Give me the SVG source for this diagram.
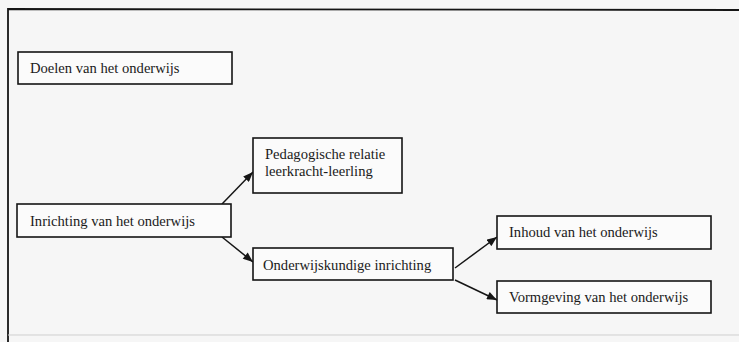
<svg xmlns="http://www.w3.org/2000/svg" width="739" height="342" viewBox="0 0 739 342">
<defs>
<style>
.box{fill:#fbfbfb;stroke:#151515;stroke-width:1.6}
.lbl{font-family:"Liberation Serif","Times New Roman",serif;font-size:14.6px;fill:#1a1a1a}
.conn{stroke:#151515;stroke-width:1.5;fill:none;marker-end:url(#ah)}
</style>
<marker id="ah" viewBox="0 0 10 8" refX="10" refY="4" markerWidth="11" markerHeight="8" markerUnits="userSpaceOnUse" orient="auto">
<path d="M0,0 L10,4 L0,8 Z" fill="#151515"/>
</marker>
</defs>
<rect x="0" y="0" width="739" height="342" fill="#f6f6f6"/>
<path d="M750,10 L8,9 L8,342" fill="none" stroke="#151515" stroke-width="1.8"/>
<path d="M8,335 L739,335" fill="none" stroke="#cfcfcf" stroke-width="1"/>
<g id="connectors">
<line class="conn" x1="222" y1="204" x2="253" y2="172"/>
<line class="conn" x1="222" y1="237" x2="253" y2="262"/>
<line class="conn" x1="455" y1="268" x2="497" y2="237"/>
<line class="conn" x1="455" y1="280" x2="497" y2="300"/>
</g>
<g id="doelen">
<rect class="box" x="18" y="52" width="214" height="32"/>
<text class="lbl" x="30" y="73">Doelen van het onderwijs</text>
</g>
<g id="inrichting">
<rect class="box" x="17" y="204" width="214" height="33"/>
<text class="lbl" x="30" y="226">Inrichting van het onderwijs</text>
</g>
<g id="pedagogische">
<rect class="box" x="253" y="138" width="149" height="55"/>
<text class="lbl" x="265" y="159">Pedagogische relatie</text>
<text class="lbl" x="265" y="176">leerkracht-leerling</text>
</g>
<g id="onderwijskundige">
<rect class="box" x="253" y="248" width="200" height="32"/>
<text class="lbl" x="263" y="270">Onderwijskundige inrichting</text>
</g>
<g id="inhoud">
<rect class="box" x="497" y="216" width="214" height="33"/>
<text class="lbl" x="509" y="237">Inhoud van het onderwijs</text>
</g>
<g id="vormgeving">
<rect class="box" x="497" y="281" width="214" height="32"/>
<text class="lbl" x="509" y="302">Vormgeving van het onderwijs</text>
</g>
</svg>
